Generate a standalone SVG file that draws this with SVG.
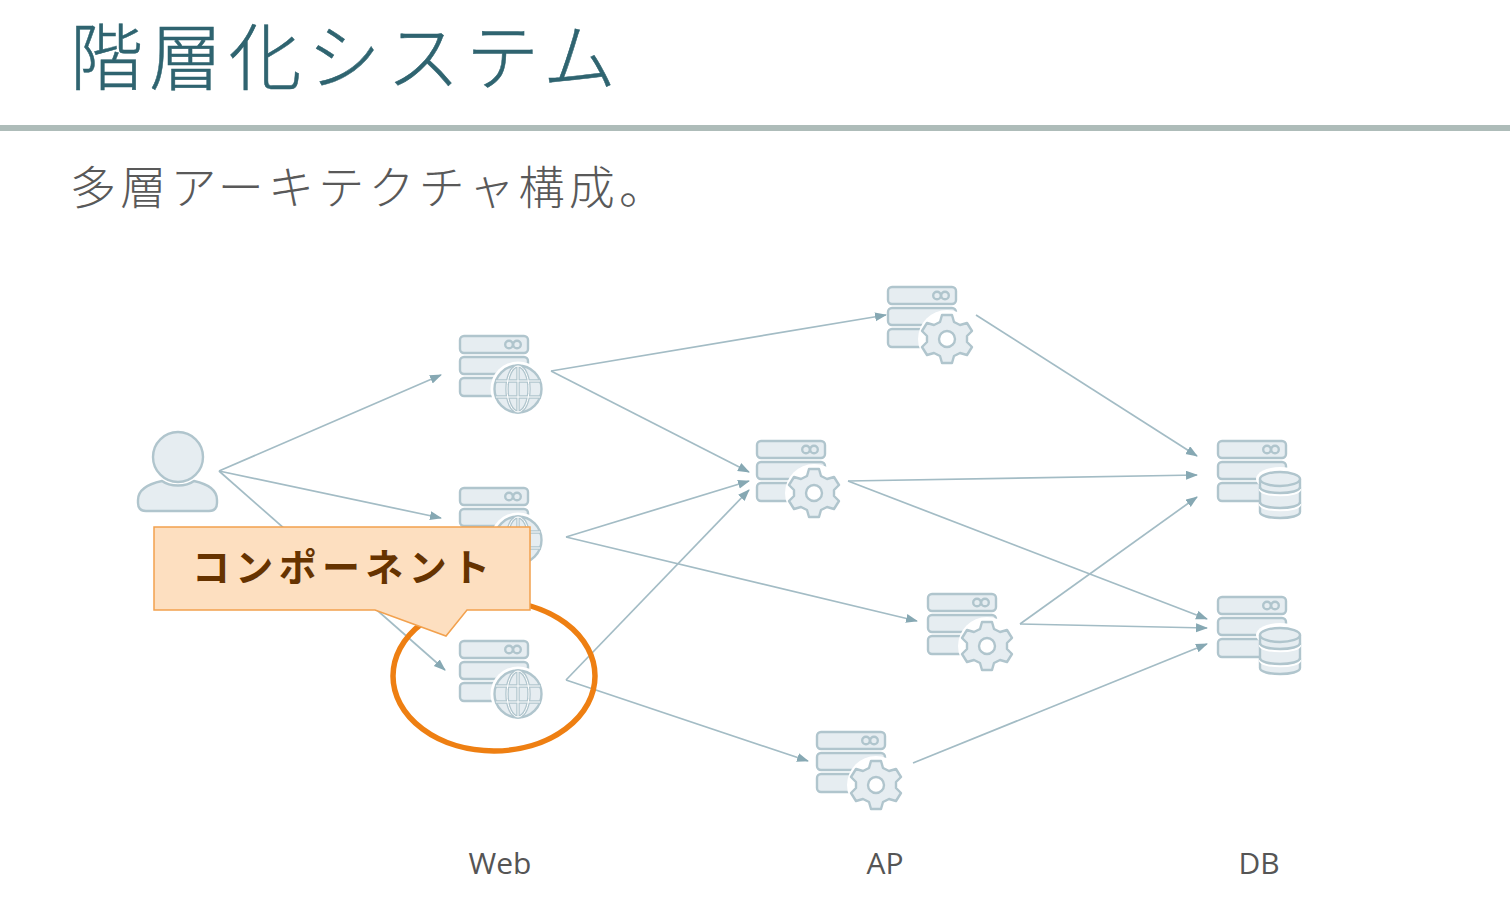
<svg xmlns="http://www.w3.org/2000/svg" width="1510" height="910" viewBox="0 0 1510 910">
<style>
.t{font-family:"Noto Sans CJK JP","Noto Sans",sans-serif}
.l{font-family:"Open Sans","Noto Sans",sans-serif;font-size:30px;fill:#555;text-anchor:middle}
.c{fill:none;stroke:#a3bcc5;stroke-width:1.7;marker-end:url(#a)}
.s{fill:#e6edf1;stroke:#b0c5cd;stroke-width:2.4;stroke-linejoin:round}
.k{fill:#fff;stroke:none}
.g{fill:none;stroke:#b0c5cd;stroke-width:2.4}
.w{fill:none;stroke:#fff;stroke-width:1}
</style>
<defs>
<marker id="a" markerWidth="13" markerHeight="10" refX="11" refY="4.500" orient="auto" markerUnits="userSpaceOnUse"><path d="M0 0L12 4.500L0 9z" fill="#86a8b3"/></marker>
<g id="srv">
<rect class="s" x="0" y="0" width="68" height="17" rx="4"/>
<circle class="g" cx="49" cy="8.500" r="3.800"/><circle class="g" cx="57" cy="8.500" r="3.800"/>
<rect class="s" x="0" y="21" width="68" height="17" rx="4"/>
<rect class="s" x="0" y="42" width="68" height="18" rx="4"/>
</g>
<g id="globe">
<circle r="27.500" class="k"/>
<circle class="s" r="23.500"/>
<ellipse cx="0" cy="0" rx="11" ry="23" fill="none" stroke="#b0c5cd" stroke-width="3.400"/>
<path fill="none" stroke="#b0c5cd" stroke-width="3.400" d="M-23 -8H23M-23 8H23M0 -23V23"/>
<ellipse class="w" rx="11" ry="23"/>
<path class="w" d="M-22 -8H22M-22 8H22M0 -23V23"/>
</g>
<g id="gear">
<circle r="29" class="k"/>
<path class="s" d="M-5 -24H5L7 -17L13 -14L20 -16L25 -8L20 -3V3L25 8L20 16L13 14L7 17L5 24H-5L-7 17L-13 14L-20 16L-25 8L-20 3V-3L-25 -8L-20 -16L-13 -14L-7 -17Z"/>
<circle r="8" fill="#fff" stroke="#b0c5cd" stroke-width="2.400"/>
</g>
<g id="db">
<ellipse cy="-16" rx="24" ry="12" class="k"/>
<path class="s" d="M-20 -16V17C-20 25 20 25 20 17V-16Z"/>
<ellipse class="s" cy="-16" rx="20" ry="7"/>
<path fill="none" stroke="#fff" stroke-width="2.500" d="M-20 -6C-20 2 20 2 20 -6M-20 9C-20 17 20 17 20 9"/>
<path class="g" d="M-20 -8C-20 0 20 0 20 -8M-20 7C-20 15 20 15 20 7"/>
</g>
</defs>
<rect width="1510" height="910" fill="#fff"/>
<text class="t" x="70" y="84" font-size="73" fill="#2f6470" font-weight="300" stroke="#2f6470" stroke-width=".5" letter-spacing="6.200">階層化システム</text>
<rect x="0" y="125" width="1510" height="6" fill="#aebcb9"/>
<text class="t" x="70" y="204" font-size="46" fill="#595959" font-weight="300" letter-spacing="4.200">多層アーキテクチャ構成。</text>
<g id="connectors">
<path class="c" d="M219 471L441 375"/>
<path class="c" d="M219 471L441 518"/>
<path class="c" d="M219 471L445 670"/>
<path class="c" d="M551 371L886 315"/>
<path class="c" d="M551 371L749 472"/>
<path class="c" d="M566 537L749 481"/>
<path class="c" d="M566 537L917 621"/>
<path class="c" d="M566 680L749 490"/>
<path class="c" d="M566 680L808 761"/>
<path class="c" d="M976 315L1197 456"/>
<path class="c" d="M848 481L1197 475"/>
<path class="c" d="M848 481L1207 619"/>
<path class="c" d="M1020 624L1197 497"/>
<path class="c" d="M1020 624L1207 628"/>
<path class="c" d="M913 763L1207 644"/>
</g>
<g id="user"><circle class="s" cx="178" cy="457" r="25"/><path class="s" d="M138 500C138 490 148 484 162 481C170 487 186 487 194 481C208 484 217 490 217 500V503Q217 511 209 511H146Q138 511 138 503Z"/></g>
<g id="web1"><use href="#srv" x="460" y="336"/><use href="#globe" x="518" y="389"/></g>
<g id="web2"><use href="#srv" x="460" y="488"/><use href="#globe" x="518" y="540"/></g>
<g id="web3"><use href="#srv" x="460" y="641"/><use href="#globe" x="518" y="694"/></g>
<g id="ap1"><use href="#srv" x="888" y="287"/><use href="#gear" x="947" y="339"/></g>
<g id="ap2"><use href="#srv" x="757" y="441"/><use href="#gear" x="814" y="493"/></g>
<g id="ap3"><use href="#srv" x="928" y="594"/><use href="#gear" x="987" y="646"/></g>
<g id="ap4"><use href="#srv" x="817" y="732"/><use href="#gear" x="876" y="785"/></g>
<g id="db1"><use href="#srv" x="1218" y="441"/><use href="#db" x="1280" y="495"/></g>
<g id="db2"><use href="#srv" x="1218" y="597"/><use href="#db" x="1280" y="651"/></g>
<g id="highlight"><ellipse cx="494" cy="676" rx="101" ry="75" fill="none" stroke="#ee7f12" stroke-width="5.500"/></g>
<g id="callout"><path d="M154 527H530V610H467L446 636L375 610H154Z" fill="#fddfc0" stroke="#f2a14e" stroke-width="1.500"/>
<text class="t" x="192" y="581" font-size="38" font-weight="700" fill="#663300" textLength="298" lengthAdjust="spacing">コンポーネント</text></g>
<text class="l" x="500" y="874">Web</text>
<text class="l" x="885" y="874">AP</text>
<text class="l" x="1259" y="874">DB</text>
</svg>
